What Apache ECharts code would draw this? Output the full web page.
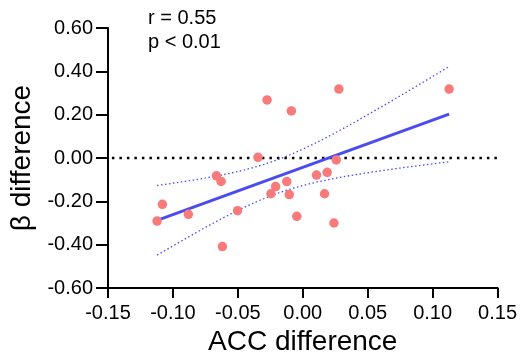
<!DOCTYPE html>
<html><head><meta charset="utf-8">
<script src="https://cdn.jsdelivr.net/npm/echarts@6/dist/echarts.min.js"></script>
<style>html,body{margin:0;padding:0;background:#fff}#c{width:520px;height:361px}</style>
</head><body><div id="c"></div>
<script>
const accDiff = [-0.1122,-0.1081,-0.0881,-0.0665,-0.0629,-0.0619,-0.0502,-0.0345,-0.0275,-0.0245,-0.0209,-0.0123,-0.0104,-0.0088,-0.0046,0.0106,0.0168,0.0188,0.0240,0.0258,0.0278,0.1127];
const betaDiff = [-0.291,-0.214,-0.260,-0.082,-0.108,-0.409,-0.243,0.003,0.268,-0.165,-0.132,-0.109,-0.169,0.217,-0.269,-0.079,-0.165,-0.066,-0.300,-0.009,0.318,0.318];
const xTickLabels = ['-0.15','-0.10','-0.05','0.00','0.05','0.10','0.15'];
const yTickLabels = ['-0.60','-0.40','-0.20','0.00','0.20','0.40','0.60'];
const statLines = ['r = 0.55','p < 0.01'];
const tCrit = 2.086; // t(0.975, df=20)

// linear regression with 95% confidence band
const n = accDiff.length;
const mx = accDiff.reduce((a,b)=>a+b,0)/n;
const my = betaDiff.reduce((a,b)=>a+b,0)/n;
let sxx=0, sxy=0;
for (let i=0;i<n;i++){ sxx+=(accDiff[i]-mx)**2; sxy+=(accDiff[i]-mx)*(betaDiff[i]-my); }
const slope = sxy/sxx, icpt = my - slope*mx;
let sse=0; for (let i=0;i<n;i++){ sse += (betaDiff[i]-(icpt+slope*accDiff[i]))**2; }
const s = Math.sqrt(sse/(n-2));
const xmin = Math.min(...accDiff), xmax = Math.max(...accDiff);
const fit = [[xmin, icpt+slope*xmin],[xmax, icpt+slope*xmax]];
const upper=[], lower=[];
const steps=60;
for (let k=0;k<=steps;k++){
  const x = xmin + (xmax-xmin)*k/steps;
  const yh = icpt+slope*x;
  const h = tCrit*s*Math.sqrt(1/n + (x-mx)**2/sxx);
  upper.push([x, yh+h]); lower.push([x, yh-h]);
}
const pts = accDiff.map((x,i)=>[x, betaDiff[i]]);

const font = 'Liberation Sans, Arial, sans-serif';
const chart = echarts.init(document.getElementById('c'), null, {renderer:'canvas'});
chart.setOption({
  animation:false,
  backgroundColor:'#fff',
  grid:{left:108, top:28, width:390, height:260, containLabel:false},
  xAxis:{
    type:'value', min:-0.15, max:0.15, interval:0.05,
    name:'ACC difference', nameLocation:'middle', nameGap:39,
    nameTextStyle:{fontSize:28, color:'#000', fontFamily:font},
    axisLine:{onZero:false, lineStyle:{color:'#000', width:2}},
    axisTick:{show:true, length:10, lineStyle:{color:'#000', width:2}},
    axisLabel:{fontSize:20, color:'#000', fontFamily:font, margin:15,
      formatter:(v)=>xTickLabels[Math.round((v+0.15)/0.05)]},
    splitLine:{show:false}
  },
  yAxis:{
    type:'value', min:-0.6, max:0.6, interval:0.2,
    name:'β difference', nameLocation:'middle', nameGap:72,
    nameTextStyle:{fontSize:28, color:'#000', fontFamily:font},
    axisLine:{show:true, onZero:false, lineStyle:{color:'#000', width:2}},
    axisTick:{show:true, length:12, lineStyle:{color:'#000', width:2}},
    axisLabel:{fontSize:20, color:'#000', fontFamily:font, margin:15,
      formatter:(v)=>yTickLabels[Math.round((v+0.6)/0.2)]},
    splitLine:{show:false}
  },
  graphic:[
    {type:'text', left:148, top:8, style:{text:statLines[0], font:'20px '+font, fill:'#000'}},
    {type:'text', left:148, top:32, style:{text:statLines[1], font:'20px '+font, fill:'#000'}}
  ],
  series:[
    {type:'line', data:[[-0.147,0],[0.15,0]], symbol:'none', silent:true, z:1,
      lineStyle:{color:'#000', width:2.5, type:[2.5,5]}},
    {type:'line', data:upper, symbol:'none', silent:true, smooth:false, z:2,
      lineStyle:{color:'#4b4bf2', width:1.3, type:[1.5,2.5]}},
    {type:'line', data:lower, symbol:'none', silent:true, smooth:false, z:2,
      lineStyle:{color:'#4b4bf2', width:1.3, type:[1.5,2.5]}},
    {type:'line', data:fit, symbol:'none', silent:true, z:3,
      lineStyle:{color:'#4b4bf2', width:3}},
    {type:'scatter', data:pts, symbol:'circle', symbolSize:9.5, z:4,
      itemStyle:{color:'#f87a7a', opacity:1}}
  ]
});
</script></body></html>
